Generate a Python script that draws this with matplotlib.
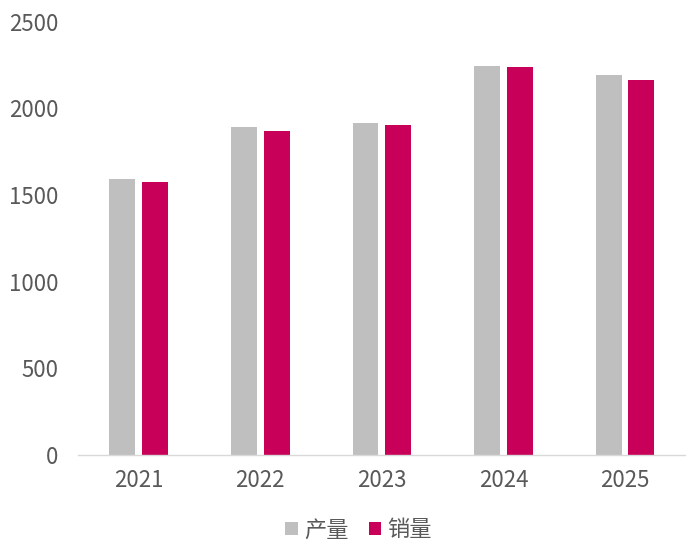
import matplotlib
matplotlib.use("Agg")
import matplotlib.pyplot as plt
import numpy as np

plt.rcParams['font.family'] = ['Noto Sans CJK SC', 'DejaVu Sans']

years = ['2021', '2022', '2023', '2024', '2025']
production = [1590, 1895, 1918, 2246, 2193]
sales = [1573, 1872, 1907, 2236, 2166]
series_names = ['产量', '销量']
yticks = [0, 500, 1000, 1500, 2000, 2500]

fig = plt.figure(figsize=(6.86, 5.43), dpi=100)
ax = fig.add_axes([0.1137, 0.162, 0.886, 0.798])

x = np.arange(len(years))
w = 0.213
off = 0.135
ax.bar(x - off, production, width=w, color='#BFBFBF', label=series_names[0])
ax.bar(x + off, sales, width=w, color='#C8005A', label=series_names[1])

ax.set_xlim(-0.5, len(years) - 0.5)
ax.set_ylim(0, 2500)
ax.set_yticks(yticks)
ax.set_xticks(x)
ax.set_xticklabels(years)
for s in ['top', 'right', 'left']:
    ax.spines[s].set_visible(False)
ax.spines['bottom'].set_color('#D9D9D9')
ax.spines['bottom'].set_linewidth(1.0)
ax.tick_params(axis='both', length=0, labelsize=16, colors='#595959')
ax.tick_params(axis='y', pad=14)
ax.tick_params(axis='x', pad=10)

leg = fig.legend(loc='center', bbox_to_anchor=(0.523, 0.024), ncol=2, frameon=False,
                 fontsize=16, handlelength=0.55, handleheight=0.55, handletextpad=0.3,
                 columnspacing=0.9, labelcolor='#595959', borderpad=0)

fig.savefig('out.png', dpi=100)
